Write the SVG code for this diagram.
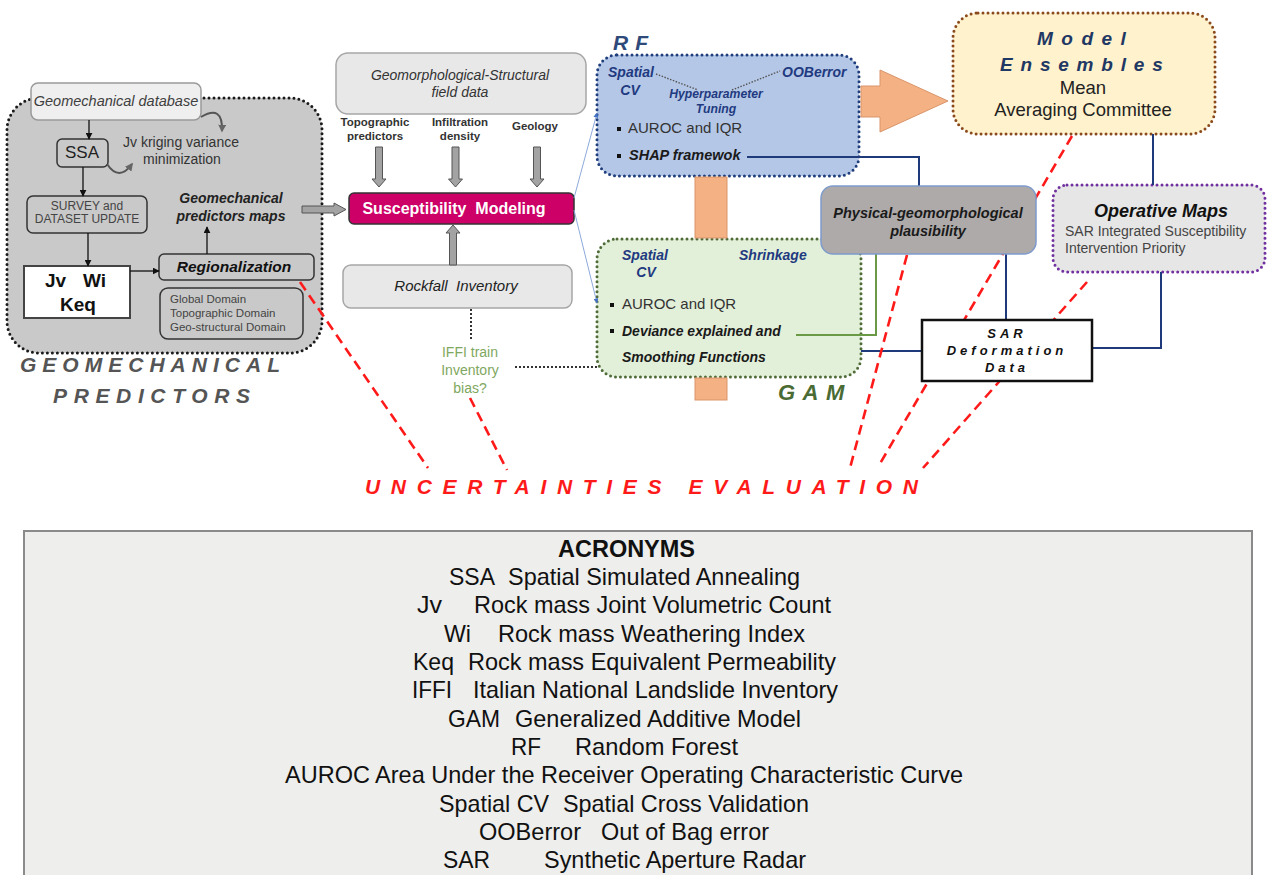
<svg xmlns="http://www.w3.org/2000/svg" width="1269" height="875" viewBox="0 0 1269 875">
<defs>
<style>
text{font-family:"Liberation Sans",Arial,sans-serif}
.bi{font-weight:bold;font-style:italic}
.it{font-style:italic}
.b{font-weight:bold}
.dot{stroke-width:3;stroke-dasharray:0 5;stroke-linecap:round}
.box{fill:none;stroke:#333;stroke-width:1.5}
.blk{stroke:#111;stroke-width:1.3;fill:none}
.gar{fill:#a3a3a3;stroke:#555;stroke-width:1}
.navy{stroke:#1f3a7a;stroke-width:2;fill:none}
.red{stroke:#ff1a1a;stroke-width:2.6;stroke-dasharray:10 6;fill:none}
.acr{font-family:"Liberation Sans Narrow","Liberation Sans",Arial,sans-serif;font-size:24px;fill:#111}
.blue{fill:#1f3a80}
.orng{fill:#f4b183;stroke:#d9956a;stroke-width:1}
</style>
<marker id="ah" viewBox="0 0 10 10" refX="9" refY="5" markerWidth="7" markerHeight="7" orient="auto" markerUnits="userSpaceOnUse"><path d="M0,0 L10,5 L0,10 z" fill="#111"/></marker>
<marker id="ahg" viewBox="0 0 10 10" refX="8" refY="5" markerWidth="8" markerHeight="8" orient="auto" markerUnits="userSpaceOnUse"><path d="M0,0 L10,5 L0,10 z" fill="#666"/></marker>
<marker id="ahb" viewBox="0 0 10 10" refX="9" refY="5" markerWidth="5" markerHeight="5" orient="auto" markerUnits="userSpaceOnUse"><path d="M0,0 L10,5 L0,10 z" fill="#4472c4"/></marker>
</defs>
<rect x="0" y="0" width="1269" height="875" fill="#ffffff"/>

<g id="acronyms">
<rect x="24" y="531" width="1228" height="360" fill="#eeeeec" stroke="#8a8a8a" stroke-width="2"/>
<text class="acr b" x="558" y="557" textLength="137" lengthAdjust="spacingAndGlyphs">ACRONYMS</text>
<text class="acr" x="449" y="585" textLength="46" lengthAdjust="spacingAndGlyphs">SSA</text>
<text class="acr" x="508" y="585" textLength="292" lengthAdjust="spacingAndGlyphs">Spatial Simulated Annealing</text>
<text class="acr" x="417" y="613" textLength="25" lengthAdjust="spacingAndGlyphs">Jv</text>
<text class="acr" x="474" y="613" textLength="357" lengthAdjust="spacingAndGlyphs">Rock mass Joint Volumetric Count</text>
<text class="acr" x="444" y="642" textLength="27" lengthAdjust="spacingAndGlyphs">Wi</text>
<text class="acr" x="498" y="642" textLength="307" lengthAdjust="spacingAndGlyphs">Rock mass Weathering Index</text>
<text class="acr" x="413" y="670" textLength="41" lengthAdjust="spacingAndGlyphs">Keq</text>
<text class="acr" x="468" y="670" textLength="368" lengthAdjust="spacingAndGlyphs">Rock mass Equivalent Permeability</text>
<text class="acr" x="412" y="698" textLength="40" lengthAdjust="spacingAndGlyphs">IFFI</text>
<text class="acr" x="473" y="698" textLength="365" lengthAdjust="spacingAndGlyphs">Italian National Landslide Inventory</text>
<text class="acr" x="448" y="727" textLength="52" lengthAdjust="spacingAndGlyphs">GAM</text>
<text class="acr" x="515" y="727" textLength="286" lengthAdjust="spacingAndGlyphs">Generalized Additive Model</text>
<text class="acr" x="511" y="755" textLength="30" lengthAdjust="spacingAndGlyphs">RF</text>
<text class="acr" x="575" y="755" textLength="163" lengthAdjust="spacingAndGlyphs">Random Forest</text>
<text class="acr" x="285" y="783" textLength="678" lengthAdjust="spacingAndGlyphs">AUROC Area Under the Receiver Operating Characteristic Curve</text>
<text class="acr" x="439" y="812" textLength="110" lengthAdjust="spacingAndGlyphs">Spatial CV</text>
<text class="acr" x="563" y="812" textLength="246" lengthAdjust="spacingAndGlyphs">Spatial Cross Validation</text>
<text class="acr" x="479" y="840" textLength="102" lengthAdjust="spacingAndGlyphs">OOBerror</text>
<text class="acr" x="601" y="840" textLength="168" lengthAdjust="spacingAndGlyphs">Out of Bag error</text>
<text class="acr" x="443" y="868" textLength="47" lengthAdjust="spacingAndGlyphs">SAR</text>
<text class="acr" x="544" y="868" textLength="262" lengthAdjust="spacingAndGlyphs">Synthetic Aperture Radar</text>
</g>

<g id="geomechanical-predictors">
<rect x="7" y="98" width="315" height="255" rx="32" fill="#c9c9c9" stroke="#1a1a1a" class="dot"/>
<text class="bi" x="20" y="372" font-size="21" fill="#555" textLength="260" lengthAdjust="spacing">GEOMECHANICAL</text>
<text class="bi" x="53" y="403" font-size="21" fill="#555" textLength="197" lengthAdjust="spacing">PREDICTORS</text>
</g>
<g id="geomechanical-database">
<rect x="31" y="83" width="170" height="37" rx="7" fill="#efefef" stroke="#9a9a9a" stroke-width="1.5"/>
<text class="it" x="116" y="106" font-size="14.5" fill="#404040" text-anchor="middle">Geomechanical database</text>
</g>
<g id="ssa">
<rect class="box" x="57" y="139" width="51" height="28" rx="5"/>
<text x="82" y="158" font-size="17" fill="#222" text-anchor="middle">SSA</text>
</g>
<g id="kriging-label">
<text x="181" y="147" font-size="14" fill="#333" text-anchor="middle">Jv kriging variance</text>
<text x="182" y="164" font-size="14" fill="#333" text-anchor="middle">minimization</text>
</g>
<g id="survey">
<rect class="box" x="27" y="196" width="120" height="37" rx="6"/>
<text x="87" y="210" font-size="12" fill="#444" text-anchor="middle">SURVEY and</text>
<text x="87" y="223" font-size="12" fill="#444" text-anchor="middle">DATASET UPDATE</text>
</g>
<g id="jv-wi-keq">
<rect x="24" y="266" width="106" height="52" fill="#ffffff" stroke="#444" stroke-width="2"/>
<text class="b" x="45" y="287" font-size="19" fill="#111">Jv</text>
<text class="b" x="83" y="287" font-size="19" fill="#111">Wi</text>
<text class="b" x="78" y="311" font-size="19" fill="#111" text-anchor="middle">Keq</text>
</g>
<g id="regionalization">
<rect class="box" x="159" y="254" width="155" height="26" rx="5"/>
<text class="bi" x="234" y="272" font-size="15.5" fill="#111" text-anchor="middle">Regionalization</text>
</g>
<g id="geomech-maps">
<text class="bi" x="231" y="203" font-size="14" fill="#222" text-anchor="middle">Geomechanical</text>
<text class="bi" x="231" y="221" font-size="14" fill="#222" text-anchor="middle">predictors maps</text>
</g>
<g id="domains">
<rect class="box" x="160" y="288" width="143" height="51" rx="8"/>
<text x="170" y="303" font-size="11.5" fill="#444">Global Domain</text>
<text x="170" y="317" font-size="11.5" fill="#444">Topographic Domain</text>
<text x="170" y="331" font-size="11.5" fill="#444">Geo-structural Domain</text>
</g>

<g id="field-data">
<rect x="336" y="53" width="250" height="61" rx="12" fill="#e8e8e8" stroke="#a6a6a6" stroke-width="1.5"/>
<text class="it" x="460" y="80" font-size="14" fill="#333" text-anchor="middle">Geomorphological-Structural</text>
<text class="it" x="460" y="97" font-size="14" fill="#333" text-anchor="middle">field data</text>
</g>
<g id="predictor-labels">
<text class="b" x="375" y="126" font-size="11.5" fill="#333" text-anchor="middle">Topographic</text>
<text class="b" x="375" y="140" font-size="11.5" fill="#333" text-anchor="middle">predictors</text>
<text class="b" x="460" y="126" font-size="11.5" fill="#333" text-anchor="middle">Infiltration</text>
<text class="b" x="460" y="140" font-size="11.5" fill="#333" text-anchor="middle">density</text>
<text class="b" x="535" y="130" font-size="11.5" fill="#333" text-anchor="middle">Geology</text>
</g>
<g id="susceptibility-modeling">
<rect x="349" y="193" width="225" height="31" rx="5" fill="#cc0066" stroke="#333" stroke-width="1.5"/>
<text class="b" x="454" y="214" font-size="16" fill="#ffffff" text-anchor="middle" style="white-space:pre">Susceptibility  Modeling</text>
</g>
<g id="rockfall-inventory">
<rect x="343" y="265" width="229" height="43" rx="8" fill="#e8e8e8" stroke="#a6a6a6" stroke-width="1.5"/>
<text class="it" x="456" y="291" font-size="15" fill="#222" text-anchor="middle" style="white-space:pre">Rockfall  Inventory</text>
</g>
<g id="iffi-bias">
<text x="470" y="357" font-size="14" fill="#7fa760" text-anchor="middle">IFFI train</text>
<text x="470" y="375" font-size="14" fill="#7fa760" text-anchor="middle">Inventory</text>
<text x="470" y="393" font-size="14" fill="#7fa760" text-anchor="middle">bias?</text>
</g>

<g id="rf">
<rect x="597" y="55" width="262" height="121" rx="20" fill="#b4c7e7" stroke="#203e7c" class="dot"/>
<text class="bi" x="613" y="50" font-size="21" fill="#2e4a7a" letter-spacing="7">RF</text>
<text class="bi blue" x="608" y="77" font-size="14">Spatial</text>
<text class="bi blue" x="630" y="95" font-size="14" text-anchor="middle">CV</text>
<text class="bi blue" x="782" y="77" font-size="14">OOBerror</text>
<text class="bi blue" x="716" y="98" font-size="12.2" text-anchor="middle">Hyperparameter</text>
<text class="bi blue" x="716" y="112.5" font-size="12.2" text-anchor="middle">Tuning</text>
<path d="M656,74 L698,90 M732,90 L780,71" stroke="#555" stroke-width="1.4" stroke-dasharray="1.5 1.5" fill="none"/>
<rect x="617" y="127" width="4" height="4" fill="#111"/>
<text x="628" y="133" font-size="15" fill="#333">AUROC and IQR</text>
<rect x="617" y="154" width="4" height="4" fill="#111"/>
<text class="bi" x="629" y="160" font-size="14.5" fill="#1a1a1a">SHAP framewok</text>
</g>

<g id="gam">
<rect x="597" y="239" width="264" height="138" rx="20" fill="#e2efd9" stroke="#4f6b38" class="dot"/>
<text class="bi blue" x="622" y="260" font-size="14">Spatial</text>
<text class="bi blue" x="646" y="277" font-size="14" text-anchor="middle">CV</text>
<text class="bi blue" x="739" y="260" font-size="14">Shrinkage</text>
<rect x="610" y="303" width="4" height="4" fill="#111"/>
<text x="622" y="309" font-size="15" fill="#333">AUROC and IQR</text>
<rect x="610" y="329" width="4" height="4" fill="#111"/>
<text class="bi" x="622" y="336" font-size="14" fill="#1a1a1a">Deviance explained and</text>
<text class="bi" x="622" y="362" font-size="14" fill="#1a1a1a">Smoothing Functions</text>
<text class="bi" x="778" y="400" font-size="22" fill="#4a6b34" letter-spacing="7.5">GAM</text>
</g>

<g id="model-ensembles">
<rect x="953" y="13" width="262" height="121" rx="25" fill="#fff2cc" stroke="#8b4a1c" class="dot"/>
<text class="bi" x="1037" y="45" font-size="19" fill="#1f3864" letter-spacing="8.5">Model</text>
<text class="bi" x="1000" y="71" font-size="19" fill="#1f3864" letter-spacing="7.8">Ensembles</text>
<text x="1083" y="94" font-size="18.5" fill="#222" text-anchor="middle">Mean</text>
<text x="1083" y="116" font-size="18.5" fill="#222" text-anchor="middle">Averaging Committee</text>
</g>

<g id="operative-maps">
<rect x="1053" y="185" width="212" height="87" rx="14" fill="#e7e6e6" stroke="#7030a0" class="dot"/>
<text class="bi" x="1161" y="217" font-size="18" fill="#111" text-anchor="middle">Operative Maps</text>
<text x="1065" y="236" font-size="14" fill="#444">SAR Integrated Susceptibility</text>
<text x="1065" y="253" font-size="14" fill="#444">Intervention Priority</text>
</g>

<g id="uncertainties-evaluation">
<text class="bi" x="365" y="494" font-size="21" fill="#ff1a1a" textLength="553" lengthAdjust="spacing">UNCERTAINTIES EVALUATION</text>
</g>

<g id="connectors">
<line class="blk" x1="89" y1="120" x2="89" y2="139" marker-end="url(#ah)"/>
<line class="blk" x1="83" y1="167" x2="83" y2="196" marker-end="url(#ah)"/>
<line class="blk" x1="88" y1="233" x2="88" y2="266" marker-end="url(#ah)"/>
<line class="blk" x1="130" y1="271" x2="159" y2="271" marker-end="url(#ah)"/>
<line class="blk" x1="207" y1="254" x2="207" y2="227" marker-end="url(#ah)"/>
<path d="M201,117 Q223,104 222,131" stroke="#555" stroke-width="2" fill="none" marker-end="url(#ahg)"/>
<path d="M107,164 Q119,182 132,164" stroke="#555" stroke-width="2" fill="none" marker-end="url(#ahg)"/>
<path class="gar" d="M302,206 L334,206 L334,203 L346,209.5 L334,216 L334,213 L302,213 z"/>
<path class="gar" d="M375.5,147 L382.5,147 L382.5,179 L386,179 L379,187 L372,179 L375.5,179 z"/>
<path class="gar" d="M452,147 L459,147 L459,179 L462.5,179 L455.5,187 L448.5,179 L452,179 z"/>
<path class="gar" d="M533.5,147 L540.5,147 L540.5,179 L544,179 L537,187 L530,179 L533.5,179 z"/>
<path class="gar" d="M449.5,265 L456.5,265 L456.5,233 L460,233 L453,225 L446,233 L449.5,233 z"/>
<line x1="574" y1="198" x2="597" y2="113" stroke="#8eaadb" stroke-width="1" marker-end="url(#ahb)"/>
<line x1="574" y1="210" x2="597" y2="303" stroke="#8eaadb" stroke-width="1" marker-end="url(#ahb)"/>
<line x1="471" y1="309" x2="471" y2="340" stroke="#333" stroke-width="2" stroke-dasharray="2 2"/>
<line x1="515" y1="367" x2="597" y2="367" stroke="#333" stroke-width="2" stroke-dasharray="2 2"/>
<rect class="orng" x="695" y="177" width="32" height="61"/>
<rect class="orng" x="695" y="378" width="32" height="22"/>
<path class="orng" d="M861,86 L880,86 L880,70 L948,101 L880,132 L880,117 L861,117 z"/>
<polyline class="navy" points="747,157 919,157 919,186"/>
<line class="navy" x1="861" y1="351" x2="922" y2="351"/>
<line class="navy" x1="1006" y1="254" x2="1006" y2="320"/>
<polyline class="navy" points="1092,348 1161,348 1161,272"/>
<line class="navy" x1="1153" y1="134" x2="1153" y2="185"/>
<polyline points="796,335 876,335 876,254" stroke="#6a9a45" stroke-width="2" fill="none"/>
<line class="red" x1="300" y1="282" x2="428" y2="468"/>
<line class="red" x1="470" y1="398" x2="507" y2="470"/>
<line class="red" x1="907" y1="255" x2="850" y2="468"/>
<line class="red" x1="1072" y1="136" x2="878" y2="467"/>
<line class="red" x1="1087" y1="282" x2="923" y2="468"/>
</g>

<g id="physical-plausibility">
<rect x="821" y="186" width="215" height="68" rx="12" fill="#aeaaaa" stroke="#7f9bcb" stroke-width="1.5"/>
<text class="bi" x="928" y="218" font-size="14.5" fill="#1a1a1a" text-anchor="middle">Physical-geomorphological</text>
<text class="bi" x="928" y="236" font-size="14.5" fill="#1a1a1a" text-anchor="middle">plausibility</text>
</g>

<g id="sar-deformation-data">
<rect x="922" y="320" width="170" height="61" fill="#ffffff" stroke="#111" stroke-width="2.5"/>
<text class="bi" x="1007" y="338" font-size="13" fill="#111" text-anchor="middle" letter-spacing="4">SAR</text>
<text class="bi" x="1007" y="355" font-size="13" fill="#111" text-anchor="middle" letter-spacing="4">Deformation</text>
<text class="bi" x="1007" y="372" font-size="13" fill="#111" text-anchor="middle" letter-spacing="4">Data</text>
</g>
</svg>
